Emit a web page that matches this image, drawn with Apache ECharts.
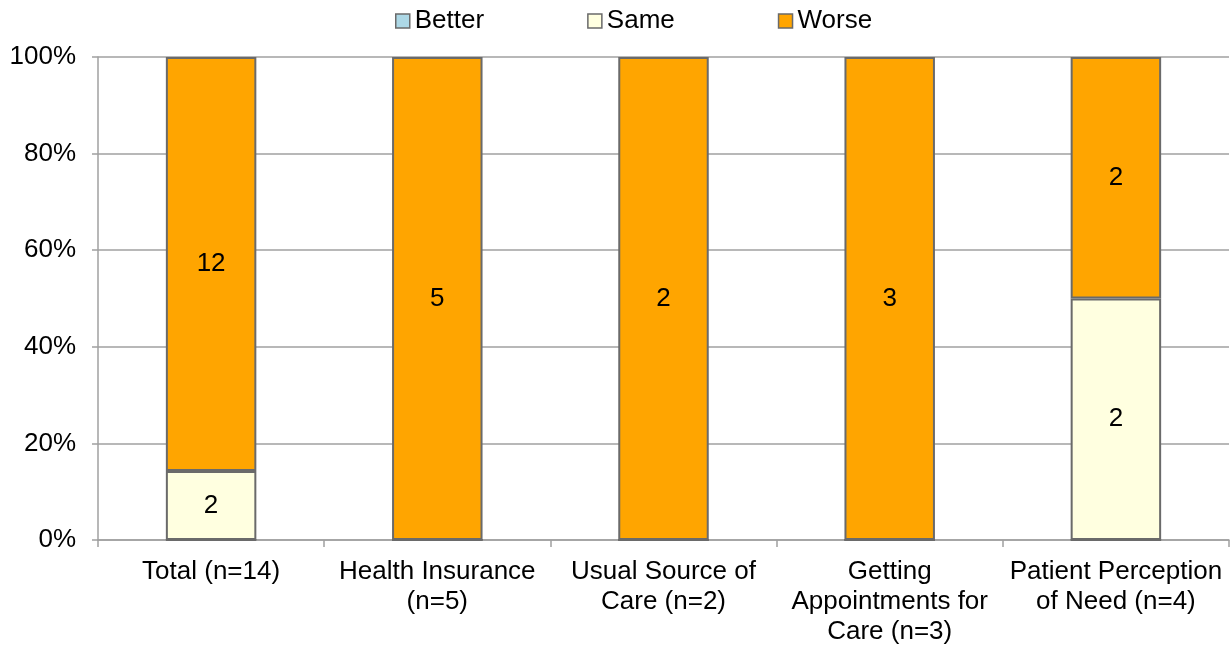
<!DOCTYPE html>
<html>
<head>
<meta charset="utf-8">
<script src="https://cdn.jsdelivr.net/npm/echarts@6/dist/echarts.min.js"></script>
<style>html,body{margin:0;padding:0;background:#fff}#c{width:1231px;height:648px}</style>
</head>
<body>
<div id="c"></div>
<script>
const categories = ["Total (n=14)", "Health Insurance\n(n=5)", "Usual Source of\nCare (n=2)", "Getting\nAppointments for\nCare (n=3)", "Patient Perception\nof Need (n=4)"];
const better = [0, 0, 0, 0, 0];
const same = [2, 0, 0, 0, 2];
const worse = [12, 5, 2, 3, 2];
const yTicks = [0, 20, 40, 60, 80, 100];

const totals = categories.map((_, i) => better[i] + same[i] + worse[i]);
const FONT = '"Liberation Sans", Arial, sans-serif';
function mk(name, counts, color) {
  return {
    name: name, type: 'bar', stack: 'all', barWidth: '40%',
    data: counts.map((v, i) => ({ value: totals[i] ? v / totals[i] * 100 : 0, count: v })),
    itemStyle: { color: color, borderColor: '#6a6a6a', borderWidth: 2 },
    label: {
      show: true, position: 'inside', color: '#000', fontSize: 26, fontFamily: FONT,
      formatter: p => p.data.count ? String(p.data.count) : ''
    }
  };
}
const chart = echarts.init(document.getElementById('c'), null, { renderer: 'canvas' });
chart.setOption({
  animation: false,
  textStyle: { fontFamily: FONT },
  legend: {
    top: 3, left: 390, itemWidth: 14, itemHeight: 14, itemGap: 103,
    icon: 'rect',
    itemStyle: { borderColor: '#6a6a6a', borderWidth: 1.5 },
    textStyle: { fontSize: 26, color: '#000', fontFamily: FONT },
    data: ['Better', 'Same', 'Worse']
  },
  grid: { left: 98, right: 2, top: 57, bottom: 108, containLabel: false },
  xAxis: {
    type: 'category', data: categories,
    axisLine: { lineStyle: { color: '#a0a0a0', width: 1.5 } },
    axisTick: { show: true, length: 7, lineStyle: { color: '#a0a0a0', width: 1.5 } },
    axisLabel: { color: '#000', fontSize: 26, fontFamily: FONT, lineHeight: 30, margin: 17, interval: 0 }
  },
  yAxis: {
    type: 'value', min: yTicks[0], max: yTicks[yTicks.length - 1], interval: 20,
    axisLine: { show: true, lineStyle: { color: '#a0a0a0', width: 1.5 } },
    axisTick: { show: true, length: 6, lineStyle: { color: '#a0a0a0', width: 1.5 } },
    splitLine: { show: true, lineStyle: { color: '#a0a0a0', width: 1.5 } },
    axisLabel: { color: '#000', fontSize: 26, fontFamily: FONT, margin: 22, formatter: '{value}%' }
  },
  series: [
    mk('Better', better, '#add8e6'),
    mk('Same', same, '#ffffe0'),
    mk('Worse', worse, '#ffa500')
  ]
});
</script>
</body>
</html>
